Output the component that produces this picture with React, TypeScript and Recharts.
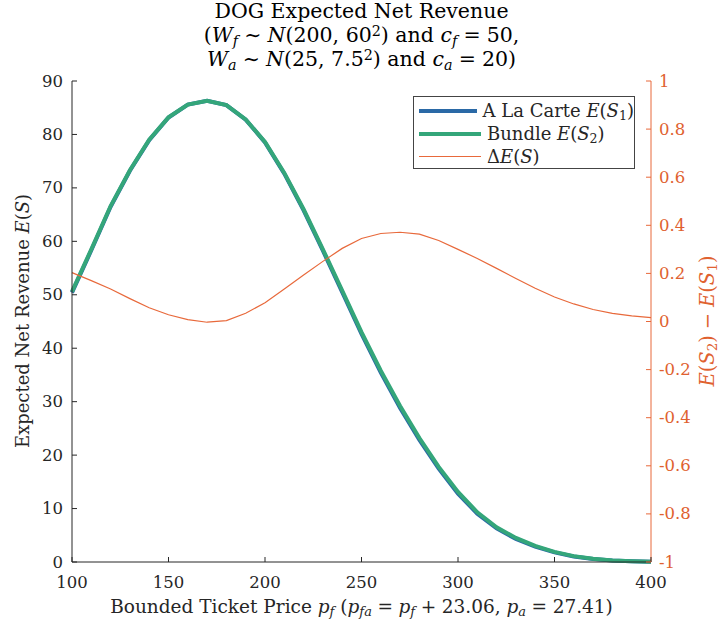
import React from 'react';
import { LineChart, Line, XAxis, YAxis, Legend } from 'recharts';

const prices = [100, 110, 120, 130, 140, 150, 160, 170, 180, 190, 200, 210, 220, 230, 240, 250, 260, 270, 280, 290, 300, 310, 320, 330, 340, 350, 360, 370, 380, 390, 400];
const aLaCarte = [50.4, 58.33, 66.47, 73.21, 78.94, 83.17, 85.59, 86.3, 85.5, 82.77, 78.52, 72.67, 65.81, 58.25, 50.5, 42.66, 35.43, 28.83, 22.84, 17.46, 12.8, 9.04, 6.28, 4.32, 2.86, 1.8, 1.03, 0.55, 0.27, 0.13, 0.03];
const bundle = [50.6, 58.5, 66.6, 73.3, 79.0, 83.2, 85.6, 86.3, 85.5, 82.8, 78.6, 72.8, 66.0, 58.5, 50.8, 43.0, 35.8, 29.2, 23.2, 17.8, 13.1, 9.3, 6.5, 4.5, 3.0, 1.9, 1.1, 0.6, 0.3, 0.15, 0.05];
const deltaE = [0.203, 0.17, 0.135, 0.095, 0.057, 0.028, 0.008, -0.003, 0.004, 0.034, 0.078, 0.135, 0.193, 0.25, 0.304, 0.345, 0.366, 0.371, 0.363, 0.337, 0.3, 0.262, 0.221, 0.179, 0.138, 0.102, 0.073, 0.05, 0.034, 0.023, 0.016];

const xTicks = [100, 150, 200, 250, 300, 350, 400];
const leftTicks = [0, 10, 20, 30, 40, 50, 60, 70, 80, 90];
const rightTicks = [-1, -0.8, -0.6, -0.4, -0.2, 0, 0.2, 0.4, 0.6, 0.8, 1];

const data = prices.map((p, i) => ({ p, s1: aLaCarte[i], s2: bundle[i], d: deltaE[i] }));

const FONT = "'DejaVu Serif', serif";
const DARK = '#262626';
const BLUE = '#2a69a6';
const GREEN = '#34a67a';
const ORANGE = '#e8693b';
const ORANGE_TXT = '#e0612f';
const FS = 16.5;
const FL = 18;
const FT = 20.5;

const LeftTick = (props: any) => {
  const { x, y, payload } = props;
  return (
    <g>
      <line x1={x} x2={x + 5} y1={y} y2={y} stroke={DARK} strokeWidth={1} />
      <text x={x - 9} y={y} textAnchor="end" dominantBaseline="central" style={{ fontFamily: FONT, fontSize: FS }} fill={DARK}>
        {payload.value}
      </text>
    </g>
  );
};

const BottomTick = (props: any) => {
  const { x, y, payload } = props;
  return (
    <g>
      <line x1={x} x2={x} y1={y} y2={y - 5} stroke={DARK} strokeWidth={1} />
      <text x={x} y={y + 20} textAnchor="middle" dominantBaseline="central" style={{ fontFamily: FONT, fontSize: FS }} fill={DARK}>
        {payload.value}
      </text>
    </g>
  );
};

const RightTick = (props: any) => {
  const { x, y, payload } = props;
  return (
    <g>
      <line x1={x} x2={x - 5} y1={y} y2={y} stroke={ORANGE} strokeWidth={1} />
      <text x={x + 8} y={y} textAnchor="start" dominantBaseline="central" style={{ fontFamily: FONT, fontSize: FS }} fill={ORANGE_TXT}>
        {String(payload.value)}
      </text>
    </g>
  );
};

const it: React.CSSProperties = { fontStyle: 'italic' };
const sub: React.CSSProperties = { fontSize: '0.7em', verticalAlign: '-0.25em', lineHeight: 0 };
const sup: React.CSSProperties = { fontSize: '0.7em', verticalAlign: '0.45em', lineHeight: 0 };
const op: React.CSSProperties = { display: 'inline-block', padding: '0 0.3em' };

const LegendBox = () => {
  const rows = [
    { color: BLUE, w: 4, label: <span>A La Carte <span style={it}>E</span>(<span style={it}>S</span><span style={sub}>1</span>)</span> },
    { color: GREEN, w: 4, label: <span>Bundle <span style={it}>E</span>(<span style={it}>S</span><span style={sub}>2</span>)</span> },
    { color: ORANGE, w: 1.3, label: <span>Δ<span style={it}>E</span>(<span style={it}>S</span>)</span> },
  ];
  return (
    <div style={{ border: '1px solid #444', background: '#fff', width: 222, height: 73, boxSizing: 'border-box', paddingTop: 2, fontFamily: FONT, fontSize: FL, color: DARK }}>
      {rows.map((r, i) => (
        <div key={i} style={{ display: 'flex', alignItems: 'center', height: 23 }}>
          <div style={{ width: 62, height: r.w, background: r.color, marginLeft: 5, marginRight: 6 }} />
          <div style={{ whiteSpace: 'nowrap', lineHeight: '23px' }}>{r.label}</div>
        </div>
      ))}
    </div>
  );
};

export default function App() {
  return (
    <div style={{ position: 'absolute', left: 0, top: 0, width: 720, height: 630, background: '#fff', fontFamily: FONT }}>
      <LineChart width={720} height={630} data={data} margin={{ top: 81, right: 0, bottom: 0, left: 0 }}>
        <XAxis
          dataKey="p"
          type="number"
          domain={[100, 400]}
          ticks={xTicks}
          height={68}
          tickSize={0}
          tickMargin={0}
          tickLine={false}
          axisLine={{ stroke: DARK, strokeWidth: 1 }}
          tick={<BottomTick />}
          interval={0}
        />
        <YAxis
          yAxisId="left"
          orientation="left"
          domain={[0, 90]}
          ticks={leftTicks}
          width={72}
          tickSize={0}
          tickMargin={0}
          tickLine={false}
          axisLine={{ stroke: DARK, strokeWidth: 1 }}
          tick={<LeftTick />}
          interval={0}
        />
        <YAxis
          yAxisId="right"
          orientation="right"
          domain={[-1, 1]}
          ticks={rightTicks}
          width={69}
          tickSize={0}
          tickMargin={0}
          tickLine={false}
          axisLine={{ stroke: ORANGE, strokeWidth: 1 }}
          tick={<RightTick />}
          interval={0}
        />
        <Legend
          content={<LegendBox />}
          layout="vertical"
          align="center"
          verticalAlign="middle"
          wrapperStyle={{ position: 'absolute', left: 413, top: 96, width: 222, height: 73 }}
        />
        <Line yAxisId="left" dataKey="s1" name="A La Carte E(S1)" stroke={BLUE} strokeWidth={4} dot={false} type="linear" isAnimationActive={false} />
        <Line yAxisId="left" dataKey="s2" name="Bundle E(S2)" stroke={GREEN} strokeWidth={4} dot={false} type="linear" isAnimationActive={false} />
        <Line yAxisId="right" dataKey="d" name="ΔE(S)" stroke={ORANGE} strokeWidth={1.2} dot={false} type="linear" isAnimationActive={false} />
      </LineChart>

      <div style={{ position: 'absolute', left: 72, width: 579, top: -1, textAlign: 'center', fontFamily: FONT, fontSize: FT, lineHeight: '24px', color: '#000', whiteSpace: 'nowrap' }}>
        <div>DOG Expected Net Revenue</div>
        <div>
          (<span style={it}>W</span><span style={{ ...sub, ...it }}>f</span><span style={op}>∼</span><span style={it}>N</span>(200, 60<span style={sup}>2</span>) and <span style={it}>c</span><span style={{ ...sub, ...it }}>f</span><span style={op}>=</span>50,
        </div>
        <div>
          <span style={it}>W</span><span style={{ ...sub, ...it }}>a</span><span style={op}>∼</span><span style={it}>N</span>(25, 7.5<span style={sup}>2</span>) and <span style={it}>c</span><span style={{ ...sub, ...it }}>a</span><span style={op}>=</span>20)
        </div>
      </div>

      <div style={{ position: 'absolute', left: 72, width: 579, top: 595, textAlign: 'center', fontFamily: FONT, fontSize: 18.5, lineHeight: '24px', color: DARK, whiteSpace: 'nowrap' }}>
        Bounded Ticket Price <span style={it}>p</span><span style={{ ...sub, ...it }}>f</span> (<span style={it}>p</span><span style={{ ...sub, ...it }}>fa</span><span style={op}>=</span><span style={it}>p</span><span style={{ ...sub, ...it }}>f</span><span style={op}>+</span>23.06, <span style={it}>p</span><span style={{ ...sub, ...it }}>a</span><span style={op}>=</span>27.41)
      </div>

      <div style={{ position: 'absolute', left: 23 - 200, top: 321 - 12, width: 400, height: 24, textAlign: 'center', transform: 'rotate(-90deg)', fontFamily: FONT, fontSize: FL, lineHeight: '24px', color: DARK, whiteSpace: 'nowrap' }}>
        Expected Net Revenue <span style={it}>E</span>(<span style={it}>S</span>)
      </div>

      <div style={{ position: 'absolute', left: 708 - 200, top: 321 - 12, width: 400, height: 24, textAlign: 'center', transform: 'rotate(-90deg)', fontFamily: FONT, fontSize: 19.5, lineHeight: '24px', color: ORANGE_TXT, whiteSpace: 'nowrap' }}>
        <span style={it}>E</span>(<span style={it}>S</span><span style={sub}>2</span>)<span style={op}>−</span><span style={it}>E</span>(<span style={it}>S</span><span style={sub}>1</span>)
      </div>
    </div>
  );
}
